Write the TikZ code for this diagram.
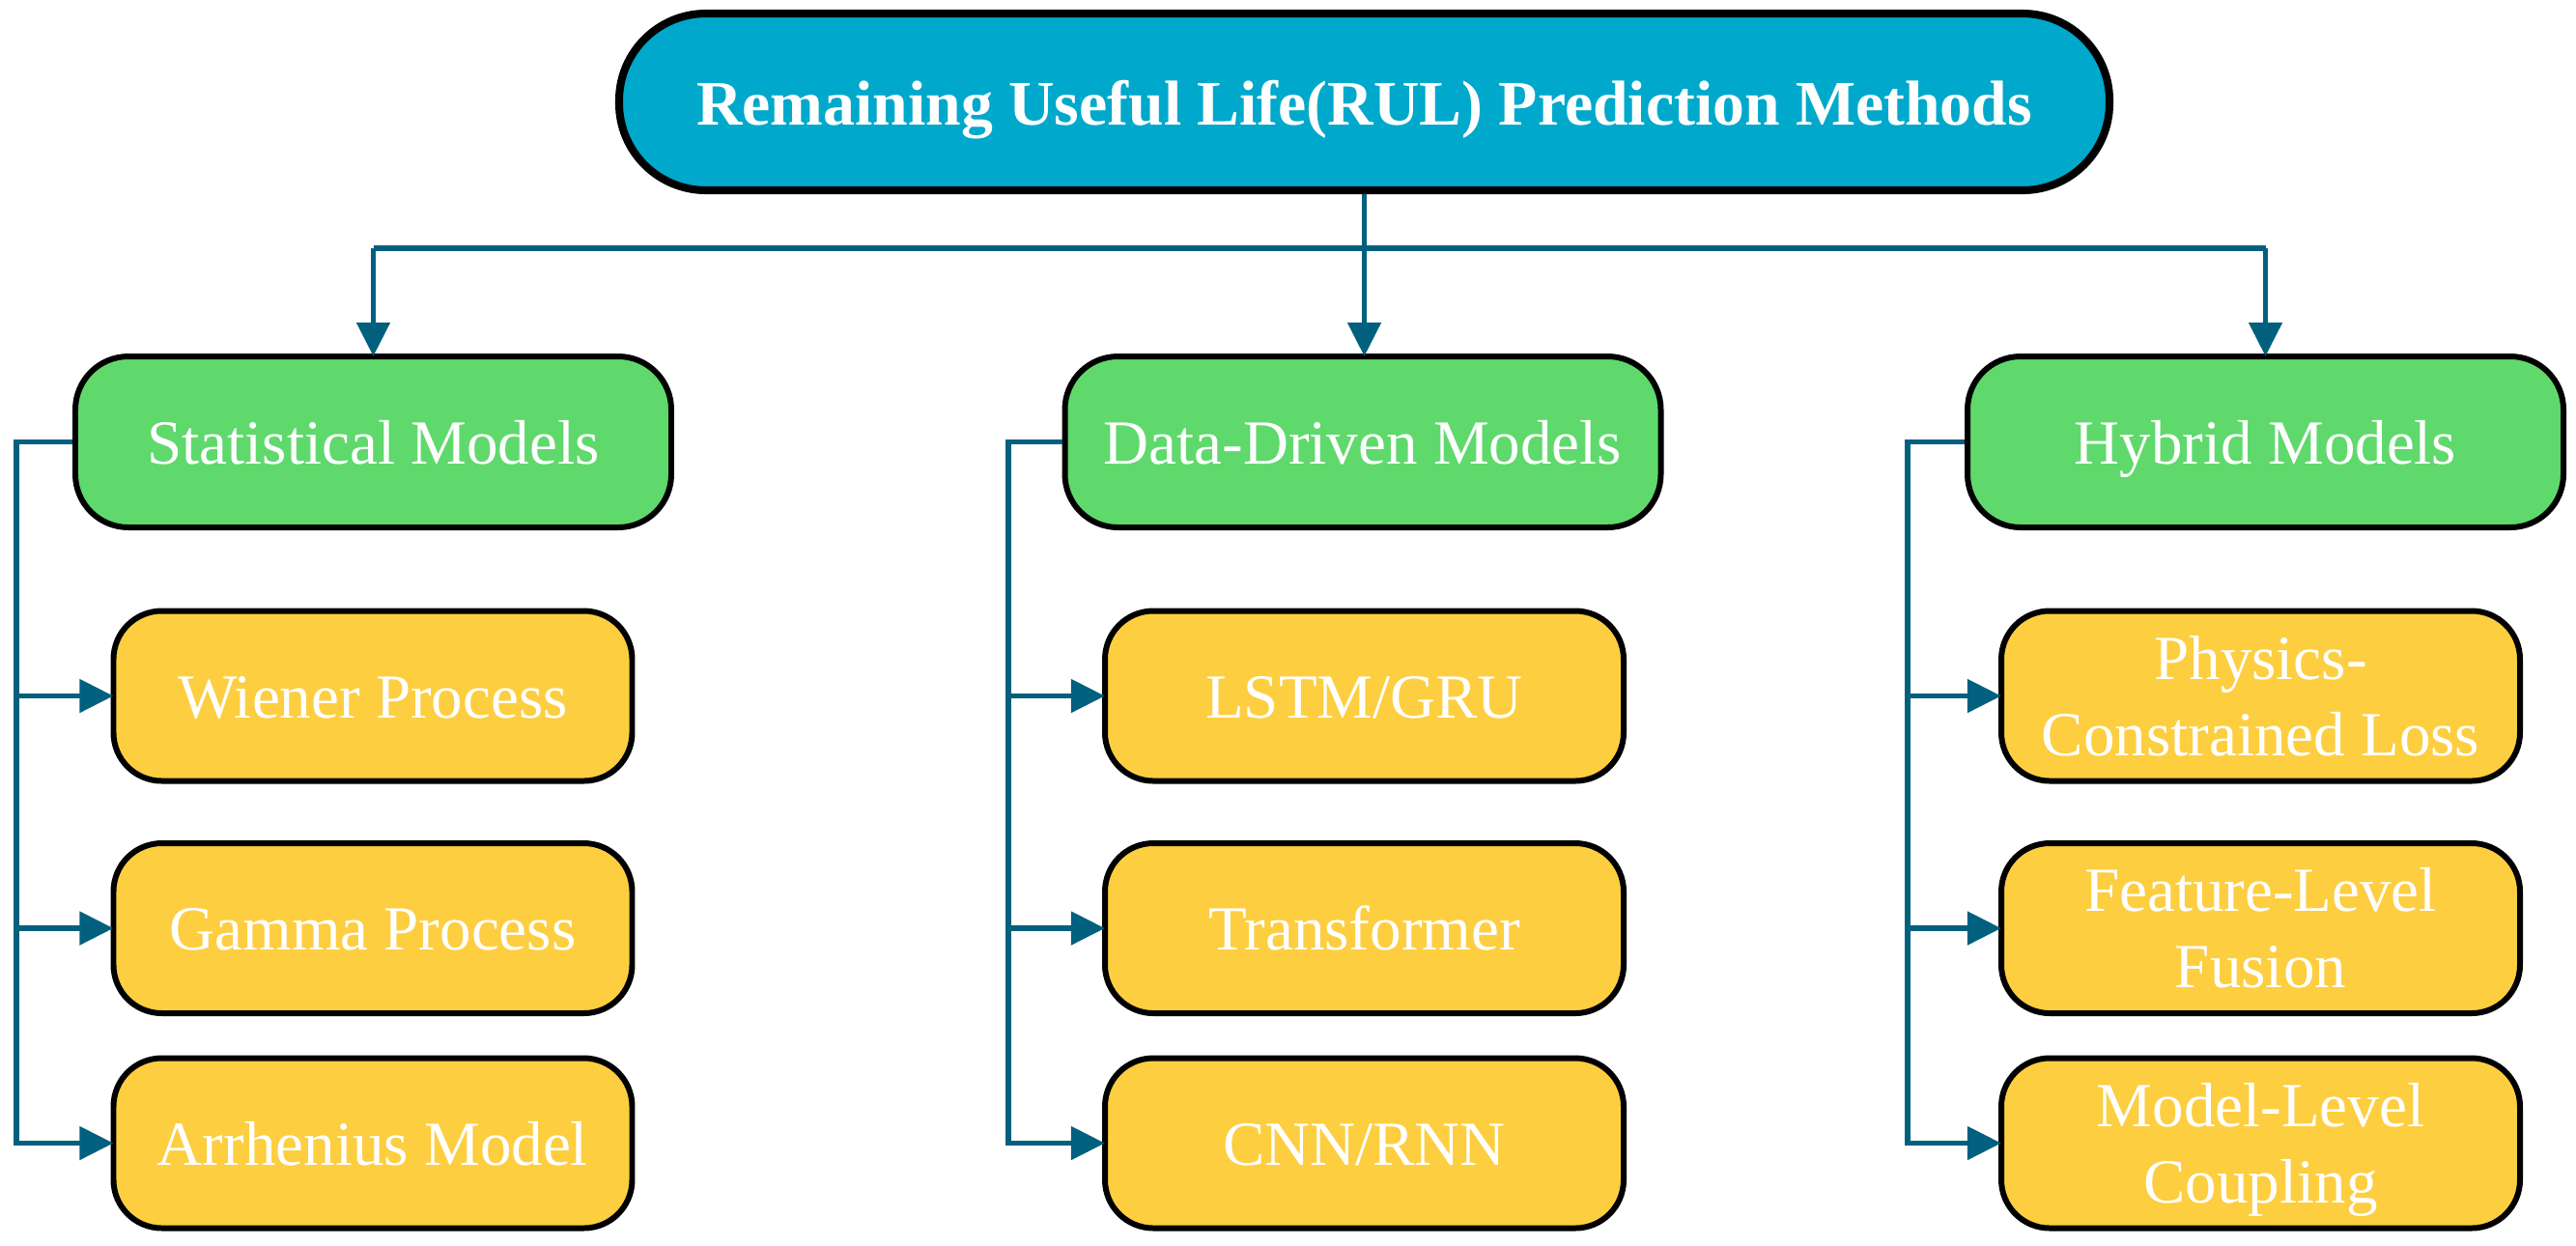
\documentclass[tikz,border=0pt]{standalone}
\usepackage{fontspec}
\setmainfont{Liberation Serif}
\usetikzlibrary{arrows.meta}
\definecolor{topc}{HTML}{00A9CB}
\definecolor{greenc}{HTML}{5FD96C}
\definecolor{yellc}{HTML}{FDCE40}
\definecolor{linec}{HTML}{02607F}
\begin{document}
\begin{tikzpicture}[
 box/.style={draw=black, line width=1.7pt, rounded corners=0.55cm, text=white, align=center, inner sep=0pt, font=\fontsize{18.5}{22.4}\selectfont},
 oneline/.style={text height=12.8pt, text depth=0pt},
 topbox/.style={box, fill=topc, line width=2.3pt, rounded corners=0.9cm, minimum width=15.43cm, minimum height=1.83cm, font=\fontsize{18.7}{22}\selectfont\bfseries, text height=13.4pt, text depth=0pt},
 catbox/.style={box, oneline, fill=greenc, minimum height=1.77cm, minimum width=6.17cm},
 leafbox/.style={box, fill=yellc, minimum height=1.76cm, minimum width=5.37cm, rounded corners=0.5cm},
 conn/.style={draw=linec, line width=1.5pt},
 arr/.style={conn, -{Triangle[length=0.35cm,width=0.34cm]}, shorten >=-0.8pt}
]
\useasboundingbox (0,0) rectangle (26.67,-12.89);

\node[topbox] (top) at (14.125,-1.055) {Remaining Useful Life(RUL) Prediction Methods};

\node[catbox] (stat) at (3.865,-4.575) {Statistical Models};
\node[catbox] (data) at (14.11,-4.575) {Data-Driven Models};
\node[catbox] (hyb) at (23.455,-4.575) {Hybrid Models};

\node[leafbox, oneline] (s1) at (3.86,-7.205) {Wiener Process};
\node[leafbox, oneline] (s2) at (3.86,-9.61) {Gamma Process};
\node[leafbox, oneline] (s3) at (3.86,-11.835) {Arrhenius Model};

\node[leafbox, oneline] (d1) at (14.125,-7.205) {LSTM/GRU};
\node[leafbox, oneline] (d2) at (14.125,-9.61) {Transformer};
\node[leafbox, oneline] (d3) at (14.125,-11.835) {CNN/RNN};

\node[leafbox] (h1) at (23.405,-7.205) {Physics-\\Constrained Loss};
\node[leafbox] (h2) at (23.405,-9.61) {Feature-Level\\Fusion};
\node[leafbox] (h3) at (23.405,-11.835) {Model-Level\\\smash{Coupling}};

% top connectors
\coordinate (hy) at (0,-2.57);
\draw[arr] (top.south) -- (top.south |- data.north);
\draw[conn] (stat.north |- hy) -- (hyb.north |- hy);
\draw[arr] (stat.north |- hy) -- (stat.north);
\draw[arr] (hyb.north |- hy) -- (hyb.north);

% bracket connectors
\coordinate (bs) at (0.17,0);
\coordinate (bd) at (10.44,0);
\coordinate (bh) at (19.75,0);

\draw[arr] (stat.west) -- (stat.west -| bs) -- (s3.west -| bs) -- (s3.west);
\draw[arr] (s1.west -| bs) -- (s1.west);
\draw[arr] (s2.west -| bs) -- (s2.west);

\draw[arr] (data.west) -- (data.west -| bd) -- (d3.west -| bd) -- (d3.west);
\draw[arr] (d1.west -| bd) -- (d1.west);
\draw[arr] (d2.west -| bd) -- (d2.west);

\draw[arr] (hyb.west) -- (hyb.west -| bh) -- (h3.west -| bh) -- (h3.west);
\draw[arr] (h1.west -| bh) -- (h1.west);
\draw[arr] (h2.west -| bh) -- (h2.west);
\end{tikzpicture}
\end{document}
